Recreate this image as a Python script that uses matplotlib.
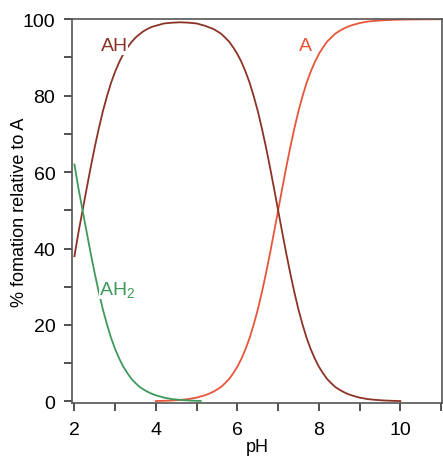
import matplotlib
matplotlib.use("Agg")
import matplotlib.pyplot as plt
from matplotlib.ticker import MultipleLocator

plt.rcParams['font.family'] = ['Liberation Sans', 'DejaVu Sans']
plt.rcParams['mathtext.fontset'] = 'custom'
plt.rcParams['mathtext.rm'] = 'Liberation Sans'
plt.rcParams['mathtext.it'] = 'Liberation Sans:italic'

# pH grids and % formation
ph_ah2 = [2.0, 2.1, 2.2, 2.3, 2.4, 2.5, 2.6, 2.7, 2.8, 2.9, 3.0, 3.1, 3.2, 3.3,
          3.4, 3.5, 3.6, 3.7, 3.8, 3.9, 4.0, 4.2, 4.4, 4.6, 4.8, 5.0, 5.1]
ah2 = [62.0, 55.7, 50.0, 44.3, 38.7, 33.4, 28.5, 24.0, 20.1, 16.6, 13.7, 11.2, 9.1, 7.4,
       5.9, 4.8, 3.8, 3.1, 2.5, 2.0, 1.6, 1.0, 0.6, 0.4, 0.25, 0.16, 0.13]

ph_ah = [2.0, 2.1, 2.2, 2.3, 2.4, 2.5, 2.6, 2.7, 2.8, 2.9, 3.0, 3.1, 3.2, 3.3,
         3.4, 3.5, 3.6, 3.7, 3.8, 3.9, 4.0, 4.2, 4.4, 4.6, 4.8, 5.0, 5.2, 5.4,
         5.5, 5.6, 5.7, 5.8, 5.9, 6.0, 6.1, 6.2, 6.3, 6.4, 6.5, 6.6, 6.7, 6.8,
         6.9, 7.0, 7.1, 7.2, 7.3, 7.4, 7.5, 7.6, 7.7, 7.8, 7.9, 8.0, 8.1, 8.2,
         8.3, 8.4, 8.5, 8.6, 8.7, 8.8, 9.0, 9.2, 9.4, 9.6, 9.8, 10.0]
ah = [38.0, 44.3, 50.0, 55.7, 61.3, 66.6, 71.5, 76.0, 79.9, 83.4, 86.3, 88.8, 90.9, 92.6,
      94.0, 95.2, 96.1, 96.9, 97.5, 98.0, 98.3, 98.9, 99.1, 99.2, 99.1, 98.9, 98.3, 97.5,
      96.9, 96.2, 95.2, 94.1, 92.6, 90.9, 88.8, 86.3, 83.4, 79.9, 76.0, 71.5, 66.6, 61.3,
      55.7, 50.0, 44.3, 38.7, 33.4, 28.5, 24.0, 20.1, 16.6, 13.7, 11.2, 9.1, 7.4, 5.9,
      4.8, 3.8, 3.1, 2.5, 2.0, 1.6, 1.0, 0.6, 0.4, 0.25, 0.16, 0.1]

ph_a = [4.0, 4.2, 4.4, 4.6, 4.8, 5.0, 5.2, 5.3, 5.4, 5.5, 5.6, 5.7, 5.8, 5.9,
        6.0, 6.1, 6.2, 6.3, 6.4, 6.5, 6.6, 6.7, 6.8, 6.9, 7.0, 7.1, 7.2, 7.3,
        7.4, 7.5, 7.6, 7.7, 7.8, 7.9, 8.0, 8.1, 8.2, 8.3, 8.4, 8.5, 8.6, 8.7,
        8.8, 9.0, 9.2, 9.4, 9.6, 9.8, 10.0, 10.5, 11.0]
a = [0.1, 0.16, 0.25, 0.4, 0.63, 1.0, 1.6, 2.0, 2.5, 3.1, 3.8, 4.8, 5.9, 7.4,
     9.1, 11.2, 13.7, 16.6, 20.1, 24.0, 28.5, 33.4, 38.7, 44.3, 50.0, 55.7, 61.3, 66.6,
     71.5, 76.0, 79.9, 83.4, 86.3, 88.8, 90.9, 92.6, 94.1, 95.2, 96.2, 96.9, 97.5, 98.0,
     98.4, 99.0, 99.4, 99.6, 99.75, 99.84, 99.9, 99.97, 100.0]

c_ah = '#8c3326'
c_a = '#e8563a'
c_ah2 = '#3e9a5c'

fig = plt.figure(figsize=(4.43, 4.60), dpi=100)
ax = fig.add_axes([0.1625, 0.121, 0.835, 0.835])

ax.plot(ph_a, a, color=c_a, lw=1.3, zorder=2)
ax.plot(ph_ah, ah, color=c_ah, lw=1.3, zorder=3)
ax.plot(ph_ah2, ah2, color=c_ah2, lw=1.3, zorder=4)

bbox = dict(facecolor='white', edgecolor='none', pad=0.3)
ax.text(2.98, 93, 'AH', color=c_ah, fontsize=14, ha='center', va='center', bbox=bbox, zorder=5)
ax.text(7.67, 93, 'A', color=c_a, fontsize=14, ha='center', va='center', bbox=bbox, zorder=5)
ax.text(3.05, 29.5, 'AH$_2$', color=c_ah2, fontsize=14, ha='center', va='center', bbox=bbox, zorder=5)

ax.set_xlim(1.94, 11.02)
ax.set_ylim(-0.5, 100)
ax.xaxis.set_major_locator(MultipleLocator(2))
ax.xaxis.set_minor_locator(MultipleLocator(1))
ax.yaxis.set_major_locator(MultipleLocator(20))
ax.yaxis.set_minor_locator(MultipleLocator(10))
ax.tick_params(which='both', direction='out', color='#333333', width=1.2,
               labelsize=14, length=6)
ax.tick_params(axis='x', which='both', pad=7)
ax.tick_params(axis='y', which='both', pad=6)
for s in ax.spines.values():
    s.set_color('#555555')
    s.set_linewidth(1.2)

ax.set_xlabel('pH', fontsize=13, labelpad=0)
ax.set_ylabel('% fomation relative to A', fontsize=13, labelpad=-4)

fig.savefig('out.png', dpi=100, facecolor='white')
